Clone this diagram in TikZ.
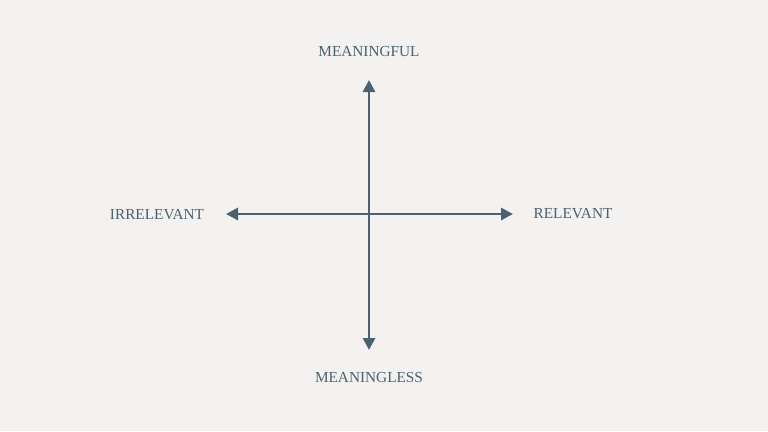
\documentclass[tikz,border=0pt]{standalone}
\usepackage{fontspec}
\setmainfont{Liberation Serif}
\usetikzlibrary{arrows.meta}
\definecolor{bg}{HTML}{F4F2F0}
\definecolor{ax}{HTML}{4A6270}
\begin{document}
\begin{tikzpicture}[x=1pt,y=-1pt,
  lab/.style={text=ax,font=\fontsize{15.3}{17}\selectfont,inner sep=0pt},
  axis/.style={draw=ax,line width=2.8pt,-{Triangle[length=12pt,width=12pt]}}]
\fill[bg] (0,0) rectangle (768,431);
\useasboundingbox (0,0) rectangle (768,431);
\coordinate (c) at (369,214);
\coordinate (t) at (369,80);
\coordinate (b) at (369,350);
\coordinate (l) at (226,214);
\coordinate (r) at (513,214);
\draw[axis] (c) -- (t);
\draw[axis] (c) -- (b);
\draw[axis] (c) -- (l);
\draw[axis] (c) -- (r);
\node[lab] (mf) at (369,52) {MEANINGFUL};
\node[lab] (ml) at (369,378) {MEANINGLESS};
\node[lab] (ir) at (157,215) {IRRELEVANT};
\node[lab] (re) at (573,214) {RELEVANT};
\end{tikzpicture}
\end{document}
